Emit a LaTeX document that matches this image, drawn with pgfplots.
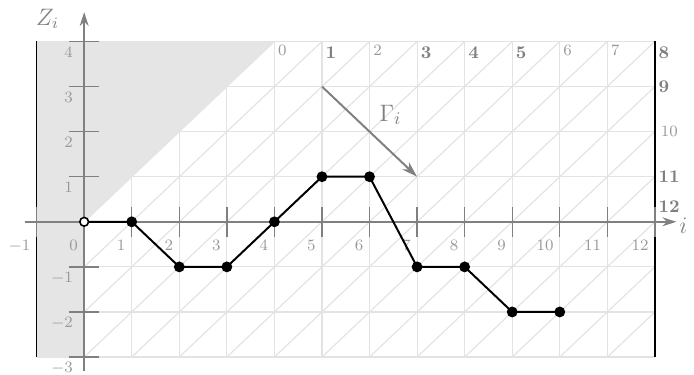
\documentclass[border=0pt]{standalone}
\usepackage{pgfplots}
\pgfplotsset{compat=1.18}
\usetikzlibrary{arrows.meta}
\colorlet{ejegris}{gray}
\colorlet{etiqgris}{gray!80}
\colorlet{rejilla}{gray!22}
\colorlet{sombra}{gray!20}

\begin{document}
\begin{tikzpicture}
\begin{axis}[
  x=24pt, y=22.75pt,
  set layers,
  axis lines=middle,
  xmin=-1.25, xmax=12.45, ymin=-3.3, ymax=4.65,
  clip=false,
  axis line style={ejegris, line width=1pt, -{Stealth[length=7pt,width=4.5pt]}},
  xtick={-1,...,12}, ytick={-3,-2,-1,1,2,3,4},
  hide obscured x ticks=false,
  tick align=center, major tick length=15pt,
  tick style={ejegris, line width=0.7pt},
  xticklabel style={font=\footnotesize, text=etiqgris, anchor=north east,
    inner sep=0pt, xshift=-3pt, yshift=-1.5pt},
  yticklabel style={font=\footnotesize, text=etiqgris, anchor=north east,
    inner sep=0pt, xshift=2pt, yshift=-2.5pt},
]
  % rejilla, diagonales y zona sombreada (al fondo)
  \begin{pgfonlayer}{axis background}
    \begin{scope}
      \clip (axis cs:-1,-3) rectangle (axis cs:12,4);
      \pgfplotsinvokeforeach{-5,...,15}{
        \draw[rejilla, line width=0.6pt] (axis cs:#1-8,-8) -- (axis cs:#1+8,8);
      }
    \end{scope}
    \pgfplotsinvokeforeach{-1,...,12}{
      \draw[rejilla, line width=0.6pt] (axis cs:#1,-3) -- (axis cs:#1,4);
    }
    \pgfplotsinvokeforeach{-3,...,4}{
      \draw[rejilla, line width=0.6pt] (axis cs:-1,#1) -- (axis cs:12,#1);
    }
    \fill[sombra] (axis cs:-1,-3) -- (axis cs:0,-3) -- (axis cs:0,0)
      -- (axis cs:4,4) -- (axis cs:-1,4) -- cycle;
    \draw[black, line width=0.8pt] (axis cs:-1,-3) -- (axis cs:-1,4);
    \draw[black, line width=0.8pt] (axis cs:12,-3) -- (axis cs:12,4);
  \end{pgfonlayer}

  % etiquetas de las diagonales
  \begin{scope}[every node/.style={font=\footnotesize, text=etiqgris, inner sep=0pt}]
    \node[anchor=north west] at (axis cs:4.07,3.93) {0};
    \node[anchor=north west] at (axis cs:6.07,3.93) {2};
    \node[anchor=north west] at (axis cs:10.07,3.93) {6};
    \node[anchor=north west] at (axis cs:11.07,3.93) {7};
    \node[anchor=west] at (axis cs:12.12,2) {10};
  \end{scope}
  \begin{scope}[every node/.style={font=\small\bfseries, text=ejegris, inner sep=0pt}]
    \node[anchor=north west] at (axis cs:5.07,3.9) {1};
    \node[anchor=north west] at (axis cs:7.07,3.9) {3};
    \node[anchor=north west] at (axis cs:8.07,3.9) {4};
    \node[anchor=north west] at (axis cs:9.07,3.9) {5};
    \node[anchor=north west] at (axis cs:12.07,3.9) {8};
    \node[anchor=west] at (axis cs:12.07,3) {9};
    \node[anchor=west] at (axis cs:12.07,1) {11};
    \node[anchor=south west] at (axis cs:12.07,0.2) {12};
  \end{scope}

  % flecha Gamma_i
  \addplot[ejegris, line width=1pt, -{Stealth[length=8pt,width=5pt]}]
    coordinates {(5,3) (7,1)};
  \node[text=ejegris, font=\fontsize{13}{15}\selectfont] at (axis cs:6.44,2.37) {$\Gamma_i$};

  % camino Z_i
  \addplot[black, line width=1pt, mark=*, mark size=2.2pt, mark indices={2,...,11}]
    coordinates {(0,0) (1,0) (2,-1) (3,-1) (4,0) (5,1) (6,1) (7,-1) (8,-1) (9,-2) (10,-2)};
  \addplot[only marks, mark=*, mark size=2.2pt, mark options={fill=white, draw=black, line width=0.8pt}]
    coordinates {(0,0)};

  % nombres de los ejes
  \node[text=ejegris, font=\large] at (axis cs:-0.77,4.5) {$Z_i$};
  \node[text=ejegris, font=\large] at (axis cs:12.6,-0.09) {$i$};

  \path (axis cs:-1.77,4.92) (axis cs:12.69,-3.32);
\end{axis}
\end{tikzpicture}
\end{document}
